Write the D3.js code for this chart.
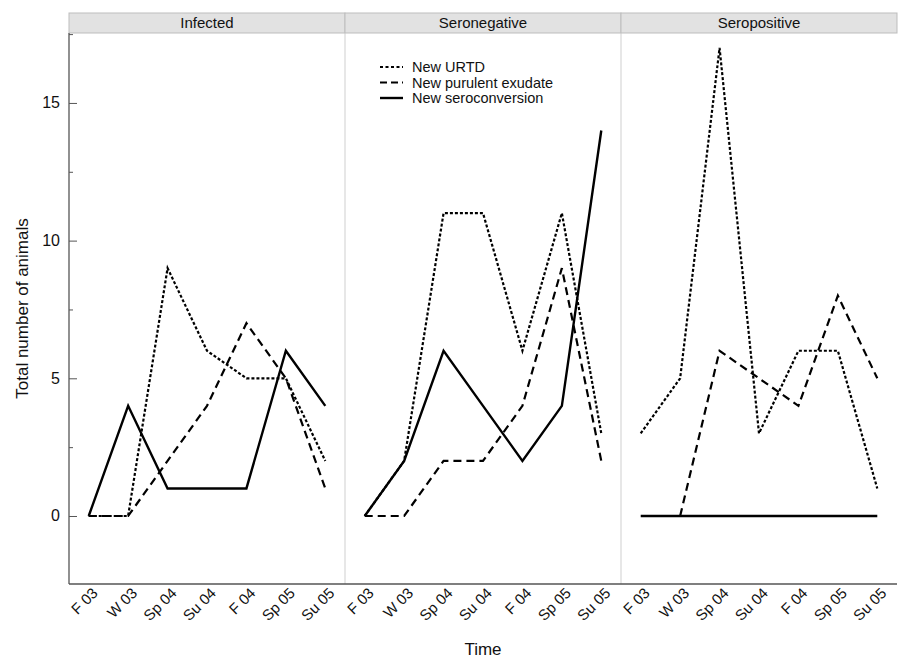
<!DOCTYPE html>
<html>
<head>
<meta charset="utf-8">
<script src="https://cdn.jsdelivr.net/npm/d3@7"></script>
<style>
  body { margin: 0; background: #fff; }
  text { font-family: "Liberation Sans", Arial, sans-serif; fill: #111; }
</style>
</head>
<body>
<div id="chart"></div>
<script>
const periods = ["F 03", "W 03", "Sp 04", "Su 04", "F 04", "Sp 05", "Su 05"];
const groups = ["Infected", "Seronegative", "Seropositive"];

// one row per group, one value per period
const newUrtd = [
    [0, 0, 9, 6, 5, 5, 2],
    [0, 2, 11, 11, 6, 11, 3],
    [3, 5, 17, 3, 6, 6, 1]
];
const newExudate = [
    [0, 0, 2, 4, 7, 5, 1],
    [0, 0, 2, 2, 4, 9, 2],
    [null, 0, 6, 5, 4, 8, 5]
];
const newSeroconversion = [
    [0, 4, 1, 1, 1, 6, 4],
    [0, 2, 6, 4, 2, 4, 14],
    [0, 0, 0, 0, 0, 0, 0]
];

const seriesNames = ["New URTD", "New purulent exudate", "New seroconversion"];
const yTicks = [0, 5, 10, 15];
const yMinorTicks = [2.5, 7.5, 12.5, 17.5];

var margin = {top: 13, right: 5, bottom: 74, left: 69},
    width = 902 - margin.left - margin.right,
    height = 658 - margin.top - margin.bottom,
    stripH = 20;

var svg = d3.select("#chart").append("svg")
    .attr("width", 902)
    .attr("height", 658)
    .append("g")
    .attr("transform", "translate(" + margin.left + "," + margin.top + ")");

var panel = d3.scaleBand().domain(groups).range([0, width]);
var x = d3.scaleLinear().domain([0.5, 7.5]).range([0, panel.bandwidth()]);
var y = d3.scaleLinear().domain([-2.47, 17.54]).range([height, stripH]);

var dashes = ["3,2", "8,5", null];
var legendDashes = ["3,2.5", "7,4", null];
var widths = [2.2, 2.2, 2.4];

// strips
svg.selectAll(".strip")
    .data(groups)
    .enter().append("rect")
    .attr("class", "strip")
    .attr("x", d => panel(d))
    .attr("y", 0)
    .attr("width", panel.bandwidth())
    .attr("height", stripH)
    .attr("fill", "#e2e2e2")
    .attr("stroke", "#bdbdbd");

svg.selectAll(".stripText")
    .data(groups)
    .enter().append("text")
    .attr("x", d => panel(d) + panel.bandwidth() / 2)
    .attr("y", stripH / 2 + 5)
    .attr("text-anchor", "middle")
    .style("font-size", "15px")
    .text(d => d);

// panel separators
svg.selectAll(".sep")
    .data(groups.slice(1))
    .enter().append("line")
    .attr("x1", d => panel(d)).attr("x2", d => panel(d))
    .attr("y1", stripH).attr("y2", height)
    .attr("stroke", "#cfcfcf");

// y axis
var yAxis = svg.append("g").call(d3.axisRight(y).tickValues(yTicks).tickSize(8).tickFormat(""));
yAxis.select(".domain").remove();
yAxis.selectAll("line").attr("stroke", "#555");
svg.append("g").call(d3.axisRight(y).tickValues(yMinorTicks).tickSize(4).tickFormat(""))
    .call(g => g.select(".domain").remove())
    .selectAll("line").attr("stroke", "#555");

svg.selectAll(".ylab")
    .data(yTicks)
    .enter().append("text")
    .attr("x", -9)
    .attr("y", d => y(d) + 5.5)
    .attr("text-anchor", "end")
    .style("font-size", "16px")
    .text(d => d);

svg.append("line")
    .attr("x1", 0).attr("x2", 0).attr("y1", stripH).attr("y2", height)
    .attr("stroke", "#555").attr("stroke-width", 1.3);
svg.append("line")
    .attr("x1", 0).attr("x2", width).attr("y1", height).attr("y2", height)
    .attr("stroke", "#555").attr("stroke-width", 1.3);

// x labels, repeated for each panel
groups.forEach(function (g) {
    var px = panel(g);
    svg.selectAll(null)
        .data(periods)
        .enter().append("text")
        .attr("text-anchor", "end")
        .attr("transform", (d, i) => "translate(" + (px + x(i + 1) + 10) + "," + (height + 10) + ") rotate(-45)")
        .style("font-size", "15px")
        .text(d => d);
});

// lines
var line = d3.line()
    .defined(d => d != null)
    .x((d, i) => x(i + 1))
    .y(d => y(d));

groups.forEach(function (g, gi) {
    var p = svg.append("g").attr("transform", "translate(" + panel(g) + ",0)");
    [newUrtd, newExudate, newSeroconversion].forEach(function (s, si) {
        p.append("path")
            .attr("d", line(s[gi]))
            .attr("fill", "none")
            .attr("stroke", "#000")
            .attr("stroke-width", widths[si])
            .attr("stroke-dasharray", dashes[si]);
    });
});

// legend inside the middle panel
var legend = svg.append("g")
    .attr("transform", "translate(" + (panel("Seronegative") + 35) + "," + (67 - margin.top) + ")");
seriesNames.forEach(function (name, i) {
    legend.append("line")
        .attr("x1", 0).attr("x2", 23)
        .attr("y1", i * 15.5).attr("y2", i * 15.5)
        .attr("stroke", "#000")
        .attr("stroke-width", widths[i])
        .attr("stroke-dasharray", legendDashes[i]);
    legend.append("text")
        .attr("x", 32)
        .attr("y", i * 15.5 + 5)
        .style("font-size", "14.5px")
        .text(name);
});

// axis titles
svg.append("text")
    .attr("x", width / 2)
    .attr("y", height + 71)
    .attr("text-anchor", "middle")
    .style("font-size", "17px")
    .text("Time");

svg.append("text")
    .attr("transform", "translate(" + (-41) + "," + ((stripH + height) / 2) + ") rotate(-90)")
    .attr("text-anchor", "middle")
    .style("font-size", "17px")
    .text("Total number of animals");
</script>
</body>
</html>
